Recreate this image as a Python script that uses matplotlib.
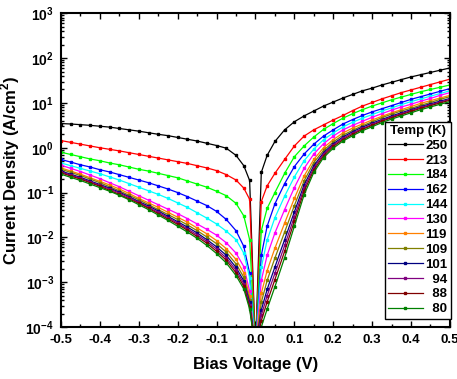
import numpy as np
import matplotlib
matplotlib.use("Agg")
import matplotlib.pyplot as plt
from matplotlib.ticker import LogLocator, MultipleLocator, NullFormatter

plt.rcParams['font.family'] = ['Liberation Sans', 'DejaVu Sans']
plt.rcParams['font.weight'] = 'bold'
plt.rcParams['mathtext.fontset'] = 'custom'
plt.rcParams['mathtext.rm'] = 'Liberation Sans:bold'
plt.rcParams['mathtext.bf'] = 'Liberation Sans:bold'

# bias voltage (V)
volts = [-0.5, -0.475, -0.45, -0.425, -0.4, -0.375, -0.35, -0.325, -0.3, -0.275,
         -0.25, -0.225, -0.2, -0.175, -0.15, -0.125, -0.1, -0.075, -0.05, -0.03,
         -0.015, 0.0, 0.015, 0.03, 0.05, 0.075, 0.1, 0.125, 0.15, 0.175, 0.2,
         0.225, 0.25, 0.275, 0.3, 0.325, 0.35, 0.375, 0.4, 0.425, 0.45, 0.475, 0.5]

temps = ['250', '213', '184', '162', '144', '130', '119', '109', '101', '94', '88', '80']
colors = ['#000000', '#ff0000', '#00ff00', '#0000ff', '#00ffff', '#ff00ff',
          '#ff8000', '#808000', '#000080', '#800080', '#800000', '#008000']

# log10 of current density (A/cm^2)
logj_250 = [0.54, 0.53, 0.515, 0.50, 0.48, 0.46, 0.43, 0.40, 0.37, 0.335, 0.30, 0.27, 0.23, 0.19, 0.15, 0.10, 0.05, -0.01, -0.17, -0.40, -0.73,
            -4.5,
            -0.55, -0.17, 0.14, 0.40, 0.58, 0.71, 0.82, 0.93, 1.02, 1.11, 1.19, 1.27, 1.33, 1.40, 1.46, 1.52, 1.58, 1.63, 1.68, 1.73, 1.78]
logj_213 = [0.16, 0.12, 0.08, 0.04, 0.0, -0.035, -0.07, -0.11, -0.15, -0.19, -0.23, -0.27, -0.31, -0.35, -0.40, -0.45, -0.51, -0.60, -0.72, -0.90, -1.15,
            -4.5,
            -1.2, -0.85, -0.57, -0.26, 0.04, 0.26, 0.40, 0.51, 0.62, 0.72, 0.83, 0.93, 1.01, 1.09, 1.16, 1.23, 1.29, 1.35, 1.41, 1.47, 1.53]
logj_184 = [-0.10, -0.15, -0.20, -0.25, -0.29, -0.34, -0.38, -0.43, -0.48, -0.52, -0.57, -0.62, -0.67, -0.74, -0.81, -0.88, -0.97, -1.07, -1.24, -1.52, -2.05,
            -4.5,
            -1.85, -1.35, -1.0, -0.57, -0.20, 0.04, 0.24, 0.41, 0.54, 0.66, 0.76, 0.85, 0.93, 1.00, 1.07, 1.13, 1.19, 1.25, 1.30, 1.35, 1.40]
logj_162 = [-0.26, -0.32, -0.38, -0.43, -0.49, -0.54, -0.60, -0.66, -0.72, -0.78, -0.85, -0.92, -1.0, -1.09, -1.19, -1.29, -1.42, -1.60, -1.85, -2.2, -2.8,
            -4.5,
            -2.4, -1.75, -1.25, -0.80, -0.42, -0.14, 0.08, 0.26, 0.40, 0.53, 0.63, 0.72, 0.80, 0.87, 0.94, 1.01, 1.08, 1.14, 1.20, 1.26, 1.32]
logj_144 = [-0.34, -0.40, -0.46, -0.52, -0.58, -0.65, -0.72, -0.80, -0.88, -0.96, -1.04, -1.13, -1.23, -1.33, -1.45, -1.57, -1.70, -1.86, -2.05, -2.35, -2.9,
            -4.5,
            -2.67, -2.06, -1.56, -1.08, -0.65, -0.29, -0.03, 0.18, 0.33, 0.465, 0.57, 0.66, 0.74, 0.82, 0.89, 0.96, 1.03, 1.09, 1.15, 1.21, 1.27]
logj_130 = [-0.39, -0.46, -0.53, -0.61, -0.69, -0.78, -0.87, -0.97, -1.07, -1.17, -1.27, -1.37, -1.47, -1.58, -1.70, -1.82, -1.95, -2.12, -2.35, -2.65, -3.2,
            -4.5,
            -2.96, -2.40, -1.90, -1.38, -0.89, -0.46, -0.14, 0.09, 0.26, 0.40, 0.50, 0.59, 0.68, 0.76, 0.84, 0.91, 0.97, 1.04, 1.10, 1.17, 1.23]
logj_119 = [-0.45, -0.52, -0.59, -0.67, -0.75, -0.83, -0.92, -1.02, -1.13, -1.23, -1.33, -1.44, -1.55, -1.66, -1.79, -1.92, -2.07, -2.25, -2.49, -2.79, -3.31,
            -4.5,
            -3.25, -2.74, -2.24, -1.68, -1.13, -0.63, -0.26, 0.00, 0.18, 0.33, 0.44, 0.53, 0.62, 0.70, 0.78, 0.85, 0.92, 0.99, 1.05, 1.11, 1.17]
logj_109 = [-0.48, -0.55, -0.62, -0.70, -0.78, -0.87, -0.96, -1.06, -1.16, -1.27, -1.38, -1.49, -1.60, -1.72, -1.85, -1.99, -2.14, -2.33, -2.59, -2.89, -3.39,
            -4.5,
            -3.45, -2.96, -2.46, -1.88, -1.29, -0.74, -0.33, -0.06, 0.13, 0.28, 0.39, 0.49, 0.58, 0.67, 0.75, 0.82, 0.88, 0.95, 1.01, 1.08, 1.14]
logj_101 = [-0.52, -0.59, -0.66, -0.74, -0.82, -0.90, -0.99, -1.09, -1.20, -1.30, -1.41, -1.53, -1.65, -1.77, -1.90, -2.05, -2.21, -2.40, -2.67, -2.97, -3.45,
            -4.5,
            -3.62, -3.16, -2.66, -2.05, -1.43, -0.83, -0.40, -0.11, 0.09, 0.24, 0.36, 0.46, 0.55, 0.63, 0.71, 0.78, 0.85, 0.92, 0.98, 1.04, 1.10]
logj_94 = [-0.54, -0.61, -0.68, -0.76, -0.84, -0.92, -1.01, -1.11, -1.22, -1.33, -1.44, -1.56, -1.68, -1.81, -1.94, -2.09, -2.26, -2.46, -2.73, -3.03, -3.5,
           -4.5,
           -3.74, -3.30, -2.80, -2.18, -1.54, -0.90, -0.45, -0.14, 0.06, 0.21, 0.33, 0.43, 0.52, 0.61, 0.69, 0.76, 0.83, 0.90, 0.96, 1.02, 1.08]
logj_88 = [-0.56, -0.63, -0.70, -0.78, -0.86, -0.95, -1.04, -1.14, -1.24, -1.35, -1.47, -1.59, -1.71, -1.84, -1.98, -2.13, -2.31, -2.51, -2.79, -3.09, -3.55,
           -4.5,
           -3.86, -3.44, -2.94, -2.31, -1.64, -0.97, -0.50, -0.18, 0.03, 0.18, 0.30, 0.41, 0.50, 0.59, 0.67, 0.74, 0.81, 0.88, 0.94, 1.00, 1.06]
logj_80 = [-0.59, -0.66, -0.73, -0.81, -0.89, -0.97, -1.06, -1.16, -1.27, -1.38, -1.50, -1.62, -1.75, -1.88, -2.02, -2.18, -2.36, -2.57, -2.85, -3.15, -3.6,
           -4.5,
           -4.0, -3.6, -3.1, -2.45, -1.75, -1.05, -0.55, -0.22, -0.01, 0.15, 0.27, 0.38, 0.47, 0.56, 0.64, 0.71, 0.78, 0.85, 0.91, 0.97, 1.03]

series = [logj_250, logj_213, logj_184, logj_162, logj_144, logj_130,
          logj_119, logj_109, logj_101, logj_94, logj_88, logj_80]

fig = plt.figure(figsize=(4.57, 3.79), dpi=100)
ax = fig.add_axes([0.1335, 0.137, 0.851, 0.828])

for t, c, lj in zip(temps, colors, series):
    j = 10.0 ** np.array(lj)
    lab = '\u2007' * (3 - len(t)) + t
    ax.plot(volts, j, '-s', color=c, lw=0.9, ms=1.7, mec=c, mfc=c, label=lab)

ax.set_yscale('log')
ax.set_xlim(-0.5, 0.5)
ax.set_ylim(1e-4, 1e3)

ax.set_xticks([-0.5, -0.4, -0.3, -0.2, -0.1, 0.0, 0.1, 0.2, 0.3, 0.4, 0.5])
ax.set_xticklabels(['-0.5', '-0.4', '-0.3', '-0.2', '-0.1', '0.0', '0.1', '0.2', '0.3', '0.4', '0.5'])
ax.xaxis.set_minor_locator(MultipleLocator(0.05))
ax.set_yticks([1e-4, 1e-3, 1e-2, 1e-1, 1e0, 1e1, 1e2, 1e3])
ax.set_yticklabels([r'$\mathbf{10^{-4}}$', r'$\mathbf{10^{-3}}$', r'$\mathbf{10^{-2}}$',
                    r'$\mathbf{10^{-1}}$', r'$\mathbf{10^{0}}$', r'$\mathbf{10^{1}}$',
                    r'$\mathbf{10^{2}}$', r'$\mathbf{10^{3}}$'])
ax.yaxis.set_minor_locator(LogLocator(base=10, subs=np.arange(2, 10), numticks=20))
ax.yaxis.set_minor_formatter(NullFormatter())

ax.tick_params(which='both', direction='in', top=True, right=True, width=1.0)
ax.tick_params(which='major', length=4.5, pad=5)
ax.tick_params(axis='x', which='major', labelsize=9.5)
ax.tick_params(axis='y', which='major', labelsize=10)
ax.tick_params(which='minor', length=2.5)
for s in ax.spines.values():
    s.set_linewidth(1.5)

ax.set_xlabel('Bias Voltage (V)', fontsize=12, fontweight='bold', labelpad=8)
ax.set_ylabel(r'Current Density (A/cm$^\mathbf{2}$)', fontsize=12, fontweight='bold')
ax.yaxis.set_label_coords(-0.1, 0.5)

leg = ax.legend(loc='upper left', bbox_to_anchor=(0.833, 0.655), title='Temp (K)',
                fontsize=9.5, title_fontproperties={'weight': 'bold', 'size': 9.5},
                frameon=True, fancybox=False, edgecolor='black', framealpha=1,
                handlelength=2.6, handletextpad=0.2, labelspacing=0.2,
                borderpad=0.25, borderaxespad=0)
leg.get_frame().set_linewidth(1.0)
for txt in leg.get_texts():
    txt.set_fontweight('bold')

fig.savefig('out.png', dpi=100)
